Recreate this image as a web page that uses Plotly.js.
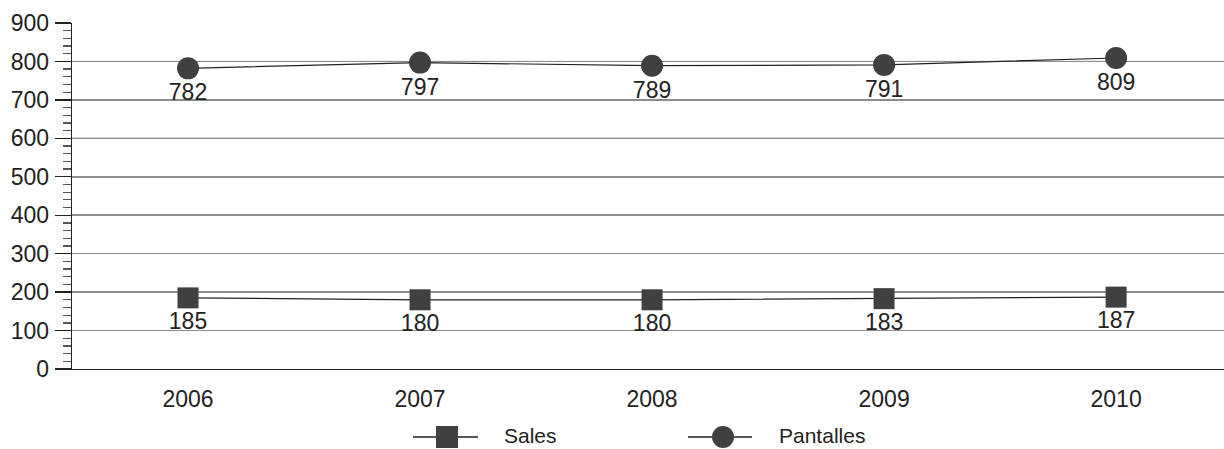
<!DOCTYPE html>
<html>
<head>
<meta charset="utf-8">
<script src="https://cdn.plot.ly/plotly-3.0.1.min.js"></script>
<style>html,body{margin:0;padding:0;background:#fff;}#chart{width:1224px;height:449px;}</style>
</head>
<body>
<div id="chart"></div>
<script>
const years = ['2006', '2007', '2008', '2009', '2010'];
const sales = [185, 180, 180, 183, 187];
const pantalles = [782, 797, 789, 791, 809];
const seriesNames = ['Sales', 'Pantalles'];
const blackGridValues = [200, 400, 600, 800];

const fontFamily = 'Liberation Sans, Arial, Helvetica, sans-serif';
const ink = '#222222';
const markerFill = '#404040';

const traces = [
  {
    x: years, y: sales, name: seriesNames[0], type: 'scatter', mode: 'lines+markers+text',
    line: {color: ink, width: 1.2},
    marker: {symbol: 'square', size: 21, color: markerFill},
    text: sales.map(String), textposition: 'bottom center',
    textfont: {family: fontFamily, size: 23, color: ink},
    cliponaxis: false, showlegend: false
  },
  {
    x: years, y: pantalles, name: seriesNames[1], type: 'scatter', mode: 'lines+markers+text',
    line: {color: ink, width: 1.2},
    marker: {symbol: 'circle', size: 22, color: markerFill},
    text: pantalles.map(String), textposition: 'bottom center',
    textfont: {family: fontFamily, size: 23, color: ink},
    cliponaxis: false, showlegend: false
  }
];

const shapes = blackGridValues.map(v => ({
  type: 'line', xref: 'paper', yref: 'y', x0: 0, x1: 1, y0: v, y1: v,
  line: {color: '#111111', width: 1}, layer: 'below'
}));

// Legend drawn below the plot (paper coordinates)
const plotL = 72, plotW = 1152, plotB = 369, plotH = 346;
const px = v => (v - plotL) / plotW;
const py = v => (plotB - v) / plotH;
const legendY = 437;
const legendItems = [
  {name: seriesNames[0], shape: 'rect', lineFrom: 413, lineTo: 478, center: 447, textX: 503},
  {name: seriesNames[1], shape: 'circle', lineFrom: 688, lineTo: 752, center: 723, textX: 778}
];
const annotations = [];
legendItems.forEach(it => {
  shapes.push({type: 'line', xref: 'paper', yref: 'paper',
    x0: px(it.lineFrom), x1: px(it.lineTo), y0: py(legendY), y1: py(legendY),
    line: {color: ink, width: 1.3}});
  shapes.push({type: it.shape, xref: 'paper', yref: 'paper',
    x0: px(it.center - 11), x1: px(it.center + 11), y0: py(legendY - 11), y1: py(legendY + 11),
    line: {width: 0}, fillcolor: markerFill});
  annotations.push({xref: 'paper', yref: 'paper', x: px(it.textX), y: py(legendY - 2),
    xanchor: 'left', yanchor: 'middle', showarrow: false, text: it.name, borderpad: 0,
    font: {family: fontFamily, size: 21, color: ink}});
});

const layout = {
  width: 1224, height: 449,
  margin: {l: 72, r: 0, t: 23, b: 80},
  paper_bgcolor: '#ffffff', plot_bgcolor: '#ffffff',
  font: {family: fontFamily, size: 23, color: ink},
  showlegend: false,
  xaxis: {
    type: 'category', range: [-0.5, 4.465], showgrid: false,
    showline: true, linecolor: ink, linewidth: 1.3,
    ticks: '', ticklabelstandoff: 9, zeroline: false,
    tickfont: {family: fontFamily, size: 23, color: ink}
  },
  yaxis: {
    range: [0, 900], dtick: 100, tick0: 0,
    showgrid: true, gridcolor: '#8c8c8c', gridwidth: 1.6,
    showline: true, linecolor: ink, linewidth: 1.3,
    ticks: 'outside', ticklen: 16, tickcolor: ink, tickwidth: 1.3,
    ticklabelstandoff: 1, zeroline: false,
    tickfont: {family: fontFamily, size: 23, color: ink},
    minor: {dtick: 20, ticks: 'outside', ticklen: 8, tickcolor: '#555555', tickwidth: 1.3, showgrid: false}
  },
  shapes: shapes,
  annotations: annotations
};

Plotly.newPlot('chart', traces, layout, {displayModeBar: false, staticPlot: true});
</script>
</body>
</html>
